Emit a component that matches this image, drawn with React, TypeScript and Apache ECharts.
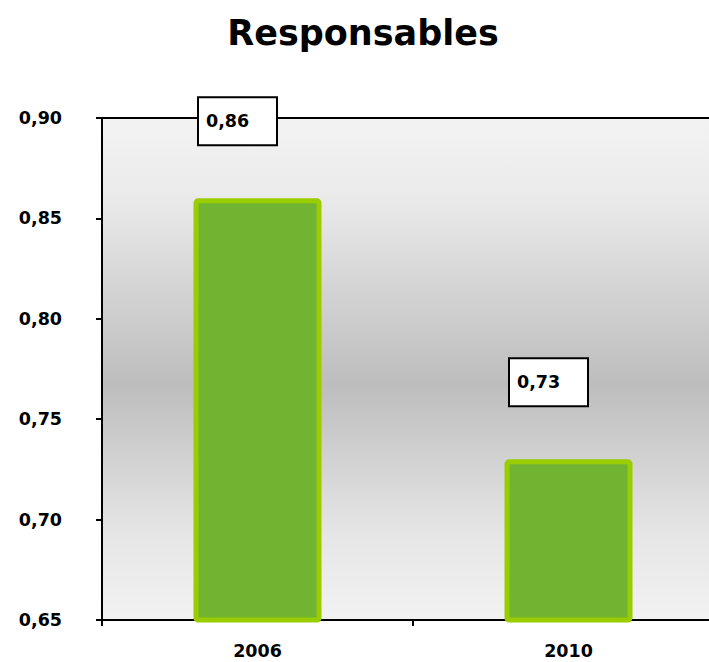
import React, { useEffect, useRef } from "react";
import * as echarts from "echarts";

const titleText = "Responsables";
const categories = ["2006", "2010"];
const values = [0.86, 0.73];
const yMin = 0.65;
const yMax = 0.9;
const yStep = 0.05;

const FONT = "'DejaVu Sans', 'Open Sans', sans-serif";

export default function App() {
  const ref = useRef<HTMLDivElement>(null);

  useEffect(() => {
    if (!ref.current) return;
    const chart = echarts.init(ref.current, null, { renderer: "svg" });
    const fmt = (v: number) => v.toFixed(2).replace(".", ",");
    chart.setOption({
      animation: false,
      backgroundColor: "#ffffff",
      title: {
        text: titleText,
        left: 358,
        textAlign: "center",
        top: 10,
        textStyle: {
          fontFamily: FONT,
          fontWeight: "bold",
          fontSize: 35,
          color: "#000",
        },
      },
      grid: {
        left: 102,
        top: 118,
        width: 622,
        height: 502,
        outerBoundsMode: "none",
        containLabel: false,
        show: true,
        borderColor: "#000",
        borderWidth: 2,
        backgroundColor: {
          type: "linear",
          x: 0,
          y: 0,
          x2: 0,
          y2: 1,
          colorStops: [
            { offset: 0, color: "#f3f3f3" },
            { offset: 0.15, color: "#ebebeb" },
            { offset: 0.53, color: "#bdbdbd" },
            { offset: 0.83, color: "#e6e6e6" },
            { offset: 1, color: "#f2f2f2" },
          ],
        },
      },
      xAxis: {
        type: "category",
        data: categories,
        boundaryGap: true,
        axisLine: { show: true, lineStyle: { color: "#000", width: 2 } },
        axisTick: { show: true, length: 6, lineStyle: { color: "#000", width: 2 } },
        axisLabel: {
          margin: 22,
          fontFamily: FONT,
          fontWeight: "bold",
          fontSize: 17.5,
          color: "#000",
        },
        splitLine: { show: false },
      },
      yAxis: {
        type: "value",
        min: yMin,
        max: yMax,
        interval: yStep,
        axisLine: { show: true, lineStyle: { color: "#000", width: 2 } },
        axisTick: { show: true, length: 6, lineStyle: { color: "#000", width: 2 } },
        splitLine: { show: false },
        axisLabel: {
          margin: 40,
          formatter: (v: number) => fmt(v),
          fontFamily: FONT,
          fontWeight: "bold",
          fontSize: 17.5,
          color: "#000",
        },
      },
      series: [
        {
          type: "bar",
          data: values,
          barWidth: 128,
          itemStyle: {
            color: "#70b432",
            borderColor: "#9acd00",
            borderWidth: 5,
            borderRadius: 2,
          },
          label: {
            show: true,
            position: [5.5, -100],
            align: "left",
            verticalAlign: "top",
            formatter: (p: any) => fmt(p.value),
            fontFamily: FONT,
            fontWeight: "bold",
            fontSize: 17.5,
            color: "#000",
            backgroundColor: "#ffffff",
            borderColor: "#000",
            borderWidth: 2,
            width: 64,
            lineHeight: 18,
            padding: [14, 6, 14, 7],
          },
        },
      ],
    });
    return () => chart.dispose();
  }, []);

  return (
    <div
      ref={ref}
      style={{ position: "fixed", left: 0, top: 0, width: 709, height: 662 }}
    />
  );
}
